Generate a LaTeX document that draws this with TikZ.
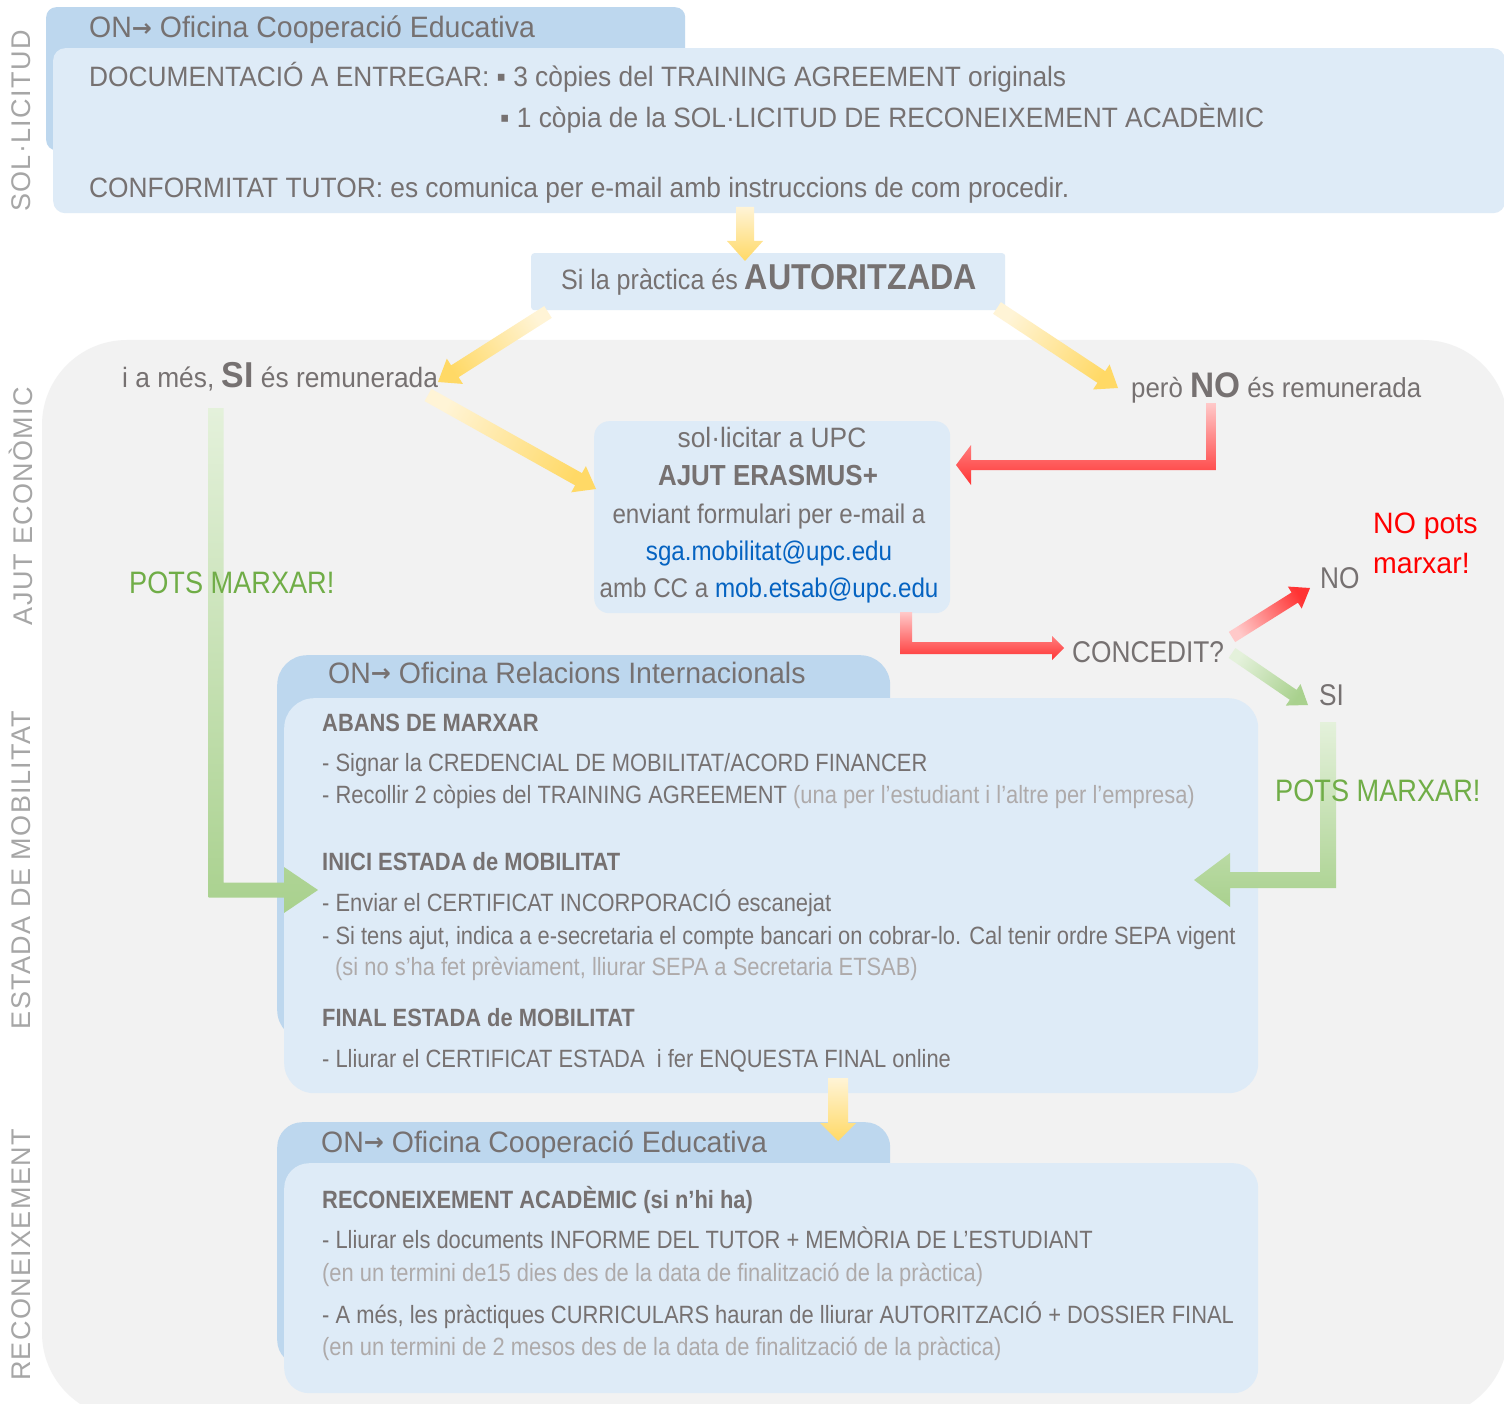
\documentclass[tikz,border=0pt]{standalone}
\usepackage{fontspec}
\setmainfont{Liberation Sans}[FakeStretch=0.876]
\newfontfamily\fm{Liberation Sans}[FakeStretch=0.895]
\newfontfamily\fb{Liberation Sans}[FakeStretch=0.94]
\newfontfamily\fc{Liberation Sans}[FakeStretch=0.965]
\newfontfamily\djv{DejaVu Sans}
\newfontfamily\lblfont{Liberation Sans}[LetterSpace=5]
\usetikzlibrary{calc}
\definecolor{tabblue}{HTML}{BDD7EE}
\definecolor{boxblue}{HTML}{DEEBF7}
\definecolor{bggray}{HTML}{F2F2F2}
\definecolor{txt}{HTML}{767171}
\definecolor{ltxt}{HTML}{AEAAAA}
\definecolor{lbl}{HTML}{A6A6A6}
\definecolor{gtxt}{HTML}{70AD47}
\definecolor{rtxt}{HTML}{FF0000}
\definecolor{linkc}{HTML}{0563C1}
\definecolor{ylight}{HTML}{FFF4D6}
\definecolor{ydark}{HTML}{FFD966}
\definecolor{rlight}{HTML}{FFC9C9}
\definecolor{rdark}{HTML}{FF3333}
\definecolor{glight}{HTML}{E4F1DB}
\definecolor{gdark}{HTML}{A9D18E}
\newcommand{\fs}[1]{\fontsize{#1}{#1}\selectfont}
\newcommand{\onarr}{{\djv\bfseries\fs{24}\raisebox{1.5pt}{→}}}
% straight block arrow: options, tail, tip, half shaft, half head, head length
\newcommand{\blkarrow}[6]{%
  \coordinate (hbase) at ($(#3)!#6!(#2)$);
  \shade[#1] ($(#2)!#4!90:(#3)$) -- ($(hbase)!#4!90:(#3)$) -- ($(hbase)!#5!90:(#3)$) -- (#3)
    -- ($(hbase)!#5!-90:(#3)$) -- ($(hbase)!#4!-90:(#3)$) -- ($(#2)!#4!-90:(#3)$) -- cycle;
}
% elbow block arrow (down then sideways): options, tail, tip, half shaft, half head, head length, dir(+1 right,-1 left)
\newcommand{\elbarrow}[7]{%
  \shade[#1] let \p1=(#2), \p2=(#3) in
    ({\x1+#7*#4},\y1) -- ({\x1-#7*#4},\y1) -- ({\x1-#7*#4},{\y2-#4}) -- ({\x2-#7*#6},{\y2-#4})
    -- ({\x2-#7*#6},{\y2-#5}) -- (\x2,\y2) -- ({\x2-#7*#6},{\y2+#5}) -- ({\x2-#7*#6},{\y2+#4})
    -- ({\x1+#7*#4},{\y2+#4}) -- cycle;
}
\begin{document}
\begin{tikzpicture}[x=1pt,y=-1pt,
  tx/.style={inner sep=0pt, anchor=base west, text=txt},
  tc/.style={inner sep=0pt, anchor=base, text=txt},
  panel/.style={inner sep=0pt, anchor=north west, draw=none},
  vlab/.style={rotate=90, inner sep=0pt, text=lbl, font=\lblfont\fs{27}},
  yarrow/.style={top color=ylight, bottom color=ydark},
  rarrow/.style={top color=rlight, bottom color=rdark},
  garrow/.style={top color=glight, bottom color=gdark}]
\useasboundingbox (0,0) rectangle (1504,1404);
\fill[white] (0,0) rectangle (1504,1404);
% grey region
\fill[bggray, rounded corners=85pt] (42,340) rectangle (1508,1418);

% vertical labels
\node[vlab] (lab1) at (21,121) {SOL·LICITUD};
\node[vlab] (lab2) at (21,506) {AJUT ECONÒMIC};
\node[vlab] (lab3) at (21,870) {ESTADA DE MOBILITAT};
\node[vlab] (lab4) at (21,1255) {RECONEIXEMENT};

% ---------- SOL·LICITUD ----------
\node[panel, fill=tabblue, rounded corners=10pt, minimum width=639pt, minimum height=143pt] (tab1) at (46,7) {};
\node[panel, fill=boxblue, rounded corners=12pt, minimum width=1452pt, minimum height=165pt] (box1) at (53,48) {};
\node[tx, font=\fc\fs{29.5}] (tab1t) at (89,38) {ON\onarr\ Oficina Cooperació Educativa};
\node[tx, font=\fb\fs{28}] (doc1) at (89,87) {DOCUMENTACIÓ A ENTREGAR: ▪ 3 còpies del TRAINING AGREEMENT originals};
\node[tx, font=\fb\fs{28}] (doc2) at (500,128) {▪ 1 còpia de la SOL·LICITUD DE RECONEIXEMENT ACADÈMIC};
\node[tx, font=\fb\fs{28}] (conf) at (89,198) {CONFORMITAT TUTOR: es comunica per e-mail amb instruccions de com procedir.};

% AUTORITZADA
\node[panel, fill=boxblue, rounded corners=3pt, minimum width=474pt, minimum height=57pt] (autbox) at (531,253) {};
\node[tc, font=\fm\fs{28}] (aut) at (769,290) {Si la pràctica és {\bfseries\fs{36}AUTORITZADA}};

\node[tx, font=\fb\fs{28}] (simes) at (122,388) {i a més, {\bfseries\fs{36}SI} és remunerada};
\node[tx, font=\fb\fs{27.5}] (pero) at (1131,397) {però {\bfseries\fs{35.5}NO} és remunerada};

% AJUT box
\node[panel, fill=boxblue, rounded corners=15pt, minimum width=356pt, minimum height=192pt] (ajut) at (594,421) {};
\node[tc, font=\fb\fs{28}] (aj1) at (772,447) {sol·licitar a UPC};
\node[tc, font=\fm\bfseries\fs{29}] (aj2) at (768,485) {AJUT ERASMUS+};
\node[tc, font=\fm\fs{27}] (aj3) at (769,523) {enviant formulari per e-mail a};
\node[tc, font=\fm\fs{27}, text=linkc] (aj4) at (769,560) {sga.mobilitat@upc.edu};
\node[tc, font=\fm\fs{27}] (aj5) at (769,597) {amb CC a \textcolor{linkc}{mob.etsab@upc.edu}};

\node[tx, font=\fs{30}] (conc) at (1072,662) {CONCEDIT?};
\node[tx, font=\fs{30}] (no) at (1320,588) {NO};
\node[tx, font=\fc\fs{29.5}, text=rtxt] (nopots) at (1373,533) {NO pots};
\node[tx, font=\fc\fs{29.5}, text=rtxt] (nomarx) at (1373,573) {marxar!};
\node[tx, font=\fs{30}] (si) at (1319,705) {SI};

% ---------- MOBILITAT ----------
\node[panel, fill=tabblue, rounded corners=30pt, minimum width=613pt, minimum height=385pt] (tab2) at (277,655) {};
\node[panel, fill=boxblue, rounded corners=30pt, minimum width=974pt, minimum height=395pt] (box2) at (284,698) {};
\node[tx, font=\fc\fs{29.5}] (tab2t) at (328,683) {ON\onarr\ Oficina Relacions Internacionals};
\node[tx, font=\bfseries\fs{25}] (m1) at (322,731) {ABANS DE MARXAR};
\node[tx, font=\fs{25}] (m2) at (322,771) {- Signar la CREDENCIAL DE MOBILITAT/ACORD FINANCER};
\node[tx, font=\fs{25}] (m3) at (322,803) {- Recollir 2 còpies del TRAINING AGREEMENT \textcolor{ltxt}{(una per l’estudiant i l’altre per l’empresa)}};
\node[tx, font=\bfseries\fs{25}] (m4) at (322,870) {INICI ESTADA de MOBILITAT};
\node[tx, font=\fs{25}] (m5) at (322,911) {- Enviar el CERTIFICAT INCORPORACIÓ escanejat};
\node[tx, font=\fs{25}] (m6) at (322,944) {- Si tens ajut, indica a e-secretaria el compte bancari on cobrar-lo. Cal tenir ordre SEPA vigent};
\node[tx, font=\fs{25}, text=ltxt] (m7) at (335,975) {(si no s’ha fet prèviament, lliurar SEPA a Secretaria ETSAB)};
\node[tx, font=\bfseries\fs{25}] (m8) at (322,1026) {FINAL ESTADA de MOBILITAT};
\node[tx, font=\fs{25}] (m9) at (322,1067) {- Lliurar el CERTIFICAT ESTADA\ \ i fer ENQUESTA FINAL online};

% ---------- RECONEIXEMENT ----------
\node[panel, fill=tabblue, rounded corners=25pt, minimum width=613pt, minimum height=243pt] (tab3) at (277,1122) {};
\node[panel, fill=boxblue, rounded corners=25pt, minimum width=974pt, minimum height=230pt] (box3) at (284,1163) {};
\node[tx, font=\fc\fs{29.5}] (tab3t) at (321,1152) {ON\onarr\ Oficina Cooperació Educativa};
\node[tx, font=\bfseries\fs{25}] (r1) at (322,1208) {RECONEIXEMENT ACADÈMIC (si n’hi ha)};
\node[tx, font=\fs{25}] (r2) at (322,1248) {- Lliurar els documents INFORME DEL TUTOR + MEMÒRIA DE L’ESTUDIANT};
\node[tx, font=\fs{25}, text=ltxt] (r3) at (322,1281) {(en un termini de15 dies des de la data de finalització de la pràctica)};
\node[tx, font=\fs{25}] (r4) at (322,1323) {- A més, les pràctiques CURRICULARS hauran de lliurar AUTORITZACIÓ + DOSSIER FINAL};
\node[tx, font=\fs{25}, text=ltxt] (r5) at (322,1355) {(en un termini de 2 mesos des de la data de finalització de la pràctica)};

% ---------- arrows ----------
\coordinate (ya1) at (745,207);  \coordinate (ya2) at (745,261);
\coordinate (yb1) at (838,1078); \coordinate (yb2) at (838,1141);
\coordinate (yc1) at (548,312);  \coordinate (yc2) at (438,382);
\coordinate (yd1) at (428,395);  \coordinate (yd2) at (596,489);
\coordinate (ye1) at (997,308);  \coordinate (ye2) at (1118,388);
\coordinate (rd1) at (1232,637); \coordinate (rd2) at (1310,588);
\coordinate (gd1) at (1232,653); \coordinate (gd2) at (1308,705);
\coordinate (re1) at (1211,403); \coordinate (re2) at (956,465);
\coordinate (rf1) at (906,612);  \coordinate (rf2) at (1064,648);
\coordinate (ge1) at (1328,722); \coordinate (ge2) at (1194,880);
\coordinate (gf1) at (216,408);  \coordinate (gf2) at (318,890);

\blkarrow{yarrow, shading angle=0}{ya1}{ya2}{9pt}{18pt}{20pt}
\blkarrow{yarrow, shading angle=0}{yb1}{yb2}{10pt}{18pt}{18pt}
\blkarrow{yarrow, shading angle=302.5}{yc1}{yc2}{7pt}{15pt}{20pt}
\blkarrow{yarrow, shading angle=60.9}{yd1}{yd2}{7pt}{15pt}{20pt}
\blkarrow{yarrow, shading angle=56.5}{ye1}{ye2}{7pt}{15pt}{20pt}
\blkarrow{rarrow, shading angle=122.1}{rd1}{rd2}{6pt}{13pt}{18pt}
\blkarrow{garrow, shading angle=55.6}{gd1}{gd2}{6pt}{13pt}{18pt}
\elbarrow{rarrow}{re1}{re2}{5pt}{20pt}{15pt}{-1}
\elbarrow{rarrow}{rf1}{rf2}{6pt}{12pt}{12pt}{1}
\elbarrow{garrow}{ge1}{ge2}{8pt}{27pt}{36pt}{-1}
\elbarrow{garrow}{gf1}{gf2}{7.5pt}{23pt}{34pt}{1}

\node[tx, font=\fs{31}, text=gtxt] (potsR) at (1275,801) {POTS MARXAR!};
\node[tx, font=\fs{31}, text=gtxt] (potsL) at (129,593) {POTS MARXAR!};
\end{tikzpicture}
\end{document}
